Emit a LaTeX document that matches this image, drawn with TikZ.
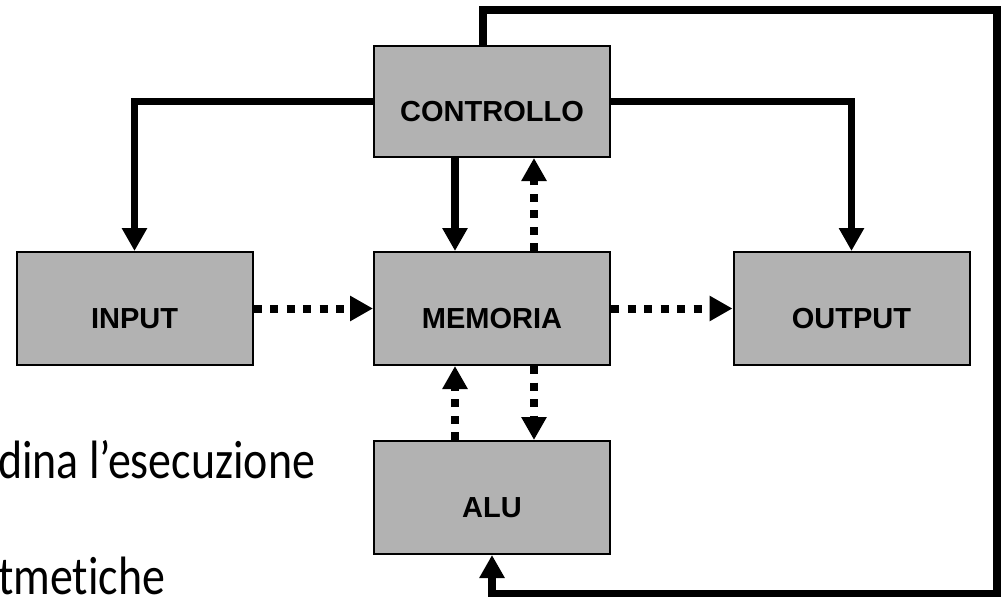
\documentclass[tikz,border=0pt]{standalone}
\usepackage{fontspec}
\setmainfont{Liberation Sans}
\newfontfamily\slidefont[Ligatures=NoCommon]{Carlito}
\usetikzlibrary{arrows.meta}

\begin{document}
\begin{tikzpicture}[x=1pt,y=-1pt,
  unit/.style={draw=black, line width=2pt, fill=black!30,
    minimum width=236pt, minimum height=113pt, inner sep=0pt,
    font=\fontsize{29}{29}\selectfont\bfseries,
    text height=39pt, text depth=0pt},
  ctl/.style={line width=7.5pt, -{Triangle[length=23pt,width=24pt]}},
  dat/.style={line width=8pt, dash pattern=on 8pt off 8.5pt,
    -{Triangle[length=23pt,width=24pt]}},
  slide/.style={font=\slidefont\fontsize{54}{54}\selectfont,
    inner sep=0pt, anchor=base west}
]
\useasboundingbox (0,0) rectangle (1004,597);

% background slide text, cut at the left edge
\node[slide] (txtA) at (-2,478) {\scalebox{0.85}[1]{dina l’esecuzione}};
\node[slide] (txtB) at (-2,594) {\scalebox{0.85}[1]{tmetiche}};

% functional units
\node[unit, minimum height=111pt] (ctrl) at (492,101.5) {CONTROLLO};
\node[unit] (inp)  at (134.5,308.5) {INPUT};
\node[unit] (mem)  at (492,308.5)   {MEMORIA};
\node[unit] (out)  at (851.5,308.5) {OUTPUT};
\node[unit] (alu)  at (492,497.5)   {ALU};

% corners of the feedback loop to the ALU
\coordinate (lt) at (483,10);
\coordinate (rt) at (997,10);
\coordinate (rb) at (997,593.5);
\coordinate (lb) at (492,593.5);

% control signals
\draw[ctl] (ctrl.west) -| (inp.north);
\draw[ctl] (ctrl.east) -| (out.north);
\draw[ctl] ([xshift=-37pt]ctrl.south) -- ([xshift=-37pt]mem.north);
\draw[ctl] ([xshift=-9pt]ctrl.north) -- (lt) -- (rt) -- (rb) -- (lb) -- (alu.south);

% data paths
\draw[dat] ([xshift=42pt]mem.north) -- ([xshift=42pt]ctrl.south);
\draw[dat] (inp.east) -- (mem.west);
\draw[dat] (mem.east) -- (out.west);
\draw[dat] ([xshift=-37pt]alu.north) -- ([xshift=-37pt]mem.south);
\draw[dat] ([xshift=42pt]mem.south) -- ([xshift=42pt]alu.north);
\end{tikzpicture}
\end{document}
